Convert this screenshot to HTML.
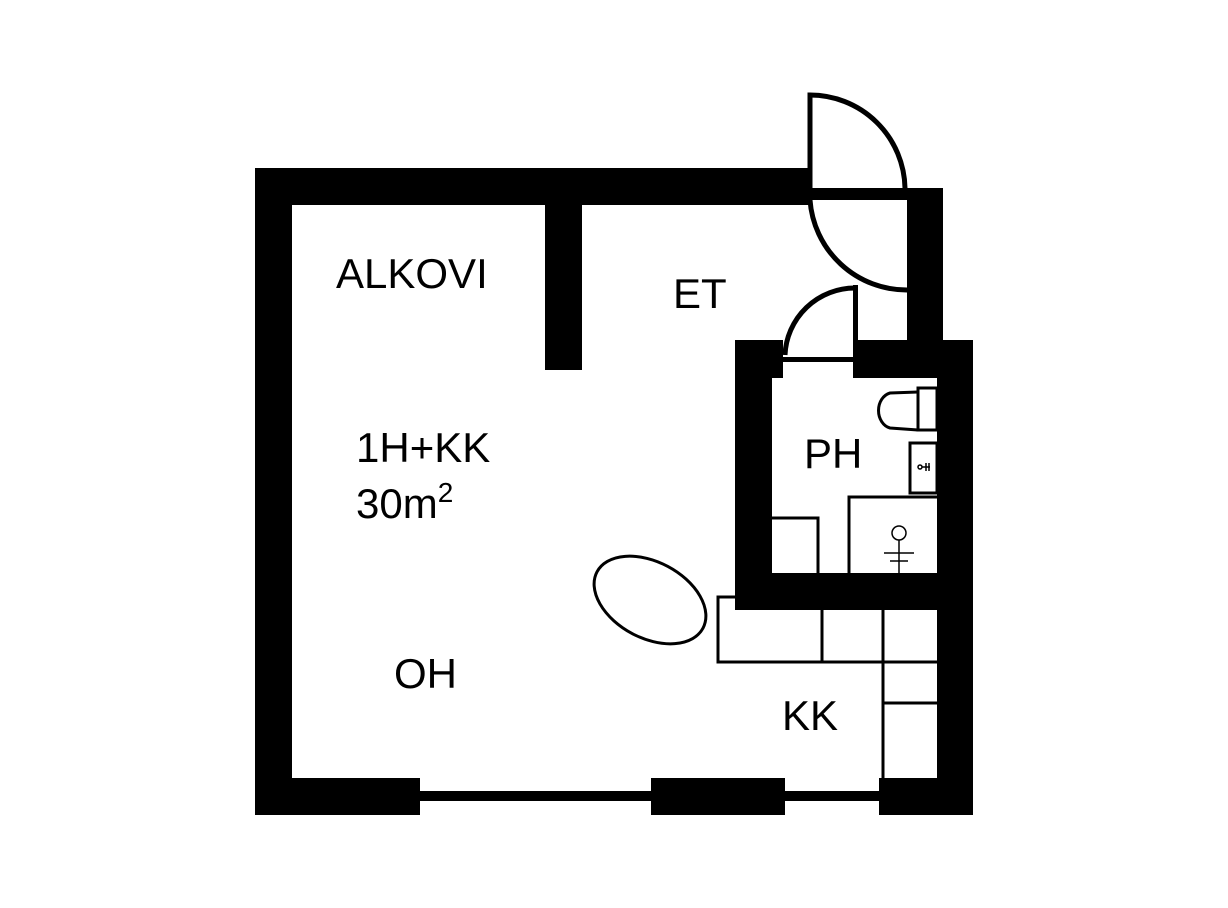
<!DOCTYPE html>
<html><head><style>html,body{margin:0;padding:0;background:#fff;}svg{display:block}</style></head><body>
<svg width="1228" height="908" viewBox="0 0 1228 908" xmlns="http://www.w3.org/2000/svg">
<g fill="#000">
<rect x="255" y="168" width="555" height="37"/>
<rect x="255" y="168" width="37" height="647"/>
<rect x="545" y="205" width="37" height="165"/>
<rect x="255" y="778" width="165" height="37"/>
<rect x="651" y="778" width="134" height="37"/>
<rect x="879" y="778" width="94" height="37"/>
<rect x="420" y="791" width="460" height="10"/>
<rect x="810" y="188" width="97" height="12"/>
<rect x="907" y="188" width="36" height="152"/>
<rect x="735" y="340" width="48" height="38"/>
<rect x="853" y="340" width="120" height="38"/>
<rect x="735" y="340" width="37" height="270"/>
<rect x="735" y="573" width="238" height="37"/>
<rect x="937" y="340" width="36" height="475"/>
<rect x="853" y="285" width="5" height="58"/>
<rect x="783" y="357" width="70" height="5"/>
</g>
<g fill="none" stroke="#000" stroke-width="5">
<path d="M810 188 V95 A95 95 0 0 1 905 188"/>
<path d="M810 200 A97 97 0 0 0 907 290"/>
<path d="M855 288 A70 70 0 0 0 785 355"/>
</g>
<g fill="none" stroke="#000" stroke-width="3">
<rect x="918" y="388" width="19" height="42"/>
<path d="M918 392 L890 393 A15 18 0 0 0 890 428 L918 430"/>
<rect x="910" y="443" width="27" height="50"/>
<path d="M849 573 V497 H937"/>
<path d="M772 518 H818 V573"/>
<path d="M735 597 H718 V662 H883 M822 610 V662 M883 610 V778 M883 662 H937 M883 703 H937"/>
<ellipse cx="650" cy="600" rx="60" ry="38" transform="rotate(28 650 600)"/>
</g>
<g fill="none" stroke="#000" stroke-width="1.5">
<circle cx="899" cy="533" r="7"/>
<path d="M899 540 V573 M884 553 H914 M890 561 H908"/>
<circle cx="920" cy="467" r="2"/><path d="M922 467 H930 M926 463 V471 M929 463 V471"/>
</g>
<g font-family="Liberation Sans, sans-serif" font-size="42" fill="#000">
<text x="336" y="288">ALKOVI</text>
<text x="673" y="308">ET</text>
<text x="356" y="462">1H+KK</text>
<text x="356" y="518">30m<tspan font-size="28" dy="-16">2</tspan></text>
<text x="394" y="688">OH</text>
<text x="804" y="468">PH</text>
<text x="782" y="730">KK</text>
</g>
</svg>
</body></html>
